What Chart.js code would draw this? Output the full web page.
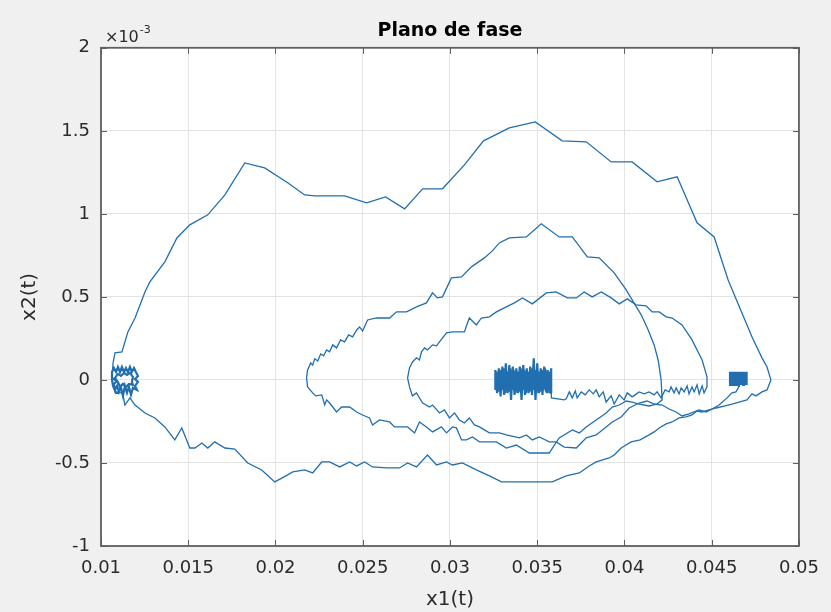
<!DOCTYPE html>
<html lang="es">
<head>
<meta charset="UTF-8">
<title>Plano de fase</title>
<script src="https://cdn.jsdelivr.net/npm/chart.js"></script>
<style>
  html, body { margin: 0; padding: 0; background: #f0f0f0; }
</style>
</head>
<body>
<canvas id="fase" width="831" height="612"></canvas>

<script>
  // ticks of the two axes
  const xTicks = [0.01, 0.015, 0.02, 0.025, 0.03, 0.035, 0.04, 0.045, 0.05];
  const xTickLabels = ['0.01', '0.015', '0.02', '0.025', '0.03', '0.035', '0.04', '0.045', '0.05'];
  const yTicks = [-1, -0.5, 0, 0.5, 1, 1.5, 2];
  const yTickLabels = ['-1', '-0.5', '0', '0.5', '1', '1.5', '2'];

  // trajectory pieces: [x1(t), x2(t) in units of 1e-3]
  const outerLoop = [
    [0.01063,0.012],[0.01069,0.102],[0.01080,0.163],[0.01120,0.169],[0.01154,0.289],[0.01195,0.373],
    [0.01252,0.530],[0.01280,0.590],[0.01366,0.711],[0.01435,0.855],[0.01509,0.934],[0.01612,0.994],
    [0.01710,1.114],[0.01824,1.307],[0.01938,1.277],[0.02070,1.187],[0.02167,1.114],[0.02225,1.108],
    [0.02396,1.108],[0.02522,1.066],[0.02631,1.102],[0.02740,1.030],[0.02843,1.151],[0.02957,1.151],
    [0.03083,1.295],[0.03192,1.440],[0.03340,1.518],[0.03489,1.554],[0.03643,1.440],[0.03781,1.434],
    [0.03924,1.313],[0.04044,1.313],[0.04187,1.193],[0.04302,1.223],[0.04416,0.946],[0.04514,0.861],
    [0.04594,0.602],[0.04731,0.259],[0.04788,0.133],[0.04817,0.078],[0.04839,0],[0.04817,-0.060],
    [0.04788,-0.072],[0.04754,-0.096],[0.04731,-0.084],[0.04702,-0.120],[0.04656,-0.133],[0.04616,-0.145],
    [0.04571,-0.157],[0.04525,-0.169],[0.04485,-0.181],[0.04445,-0.193],[0.04416,-0.187],[0.04387,-0.211],
    [0.04353,-0.223],[0.04313,-0.229],[0.04273,-0.253],[0.04239,-0.265],[0.04199,-0.289],[0.04170,-0.313],
    [0.04141,-0.331],[0.04090,-0.361],[0.04038,-0.373],[0.03981,-0.410],[0.03941,-0.452],[0.03912,-0.470],
    [0.03838,-0.494],[0.03798,-0.518],[0.03741,-0.560],[0.03666,-0.578],[0.03586,-0.614],[0.03295,-0.614],
    [0.03226,-0.578],[0.03151,-0.542],[0.03071,-0.500],[0.03014,-0.512],[0.02980,-0.494],[0.02923,-0.512],
    [0.02871,-0.452],[0.02808,-0.524],[0.02757,-0.500],[0.02711,-0.530],[0.02637,-0.530],[0.02556,-0.524],
    [0.02511,-0.494],[0.02465,-0.518],[0.02425,-0.494],[0.02368,-0.524],[0.02310,-0.494],[0.02265,-0.494],
    [0.02213,-0.560],[0.02167,-0.542],[0.02099,-0.554],[0.02070,-0.572],[0.01996,-0.614],[0.01921,-0.542],
    [0.01841,-0.500],[0.01767,-0.416],[0.01710,-0.410],[0.01652,-0.373],[0.01612,-0.410],[0.01578,-0.380],
    [0.01538,-0.410],[0.01509,-0.410],[0.01463,-0.289],[0.01423,-0.361],[0.01366,-0.283],[0.01309,-0.229],
    [0.01252,-0.199],[0.01195,-0.151],[0.01166,-0.108],[0.01137,-0.151],[0.01126,-0.090],[0.01109,-0.072]
  ];

  // settling around the left point
  const leftRest = [
    [0.01109,-0.072],[0.01086,-0.078],[0.01069,-0.036],[0.01063,0],[0.01063,0.048],[0.01074,0.072],
    [0.01086,0.048],[0.01097,0.078],[0.01109,0.048],[0.01120,0.078],[0.01132,0.048],[0.01143,0.072],
    [0.01154,0.048],[0.01166,0.078],[0.01177,0.048],[0.01189,0.072],[0.01200,0.048],[0.01212,0.024],
    [0.01195,0.006],[0.01212,-0.012],[0.01195,-0.036],[0.01206,-0.060],[0.01183,-0.048],[0.01172,-0.090],
    [0.01160,-0.042],[0.01149,-0.078],[0.01137,-0.036],[0.01126,-0.096],[0.01114,-0.042],[0.01103,-0.072],
    [0.01092,-0.036],[0.01080,-0.060],[0.01074,-0.024],[0.01092,-0.006],[0.01080,0.012],[0.01097,0.036],
    [0.01114,0.024],[0.01132,0.042],[0.01149,0.030],[0.01166,0.042],[0.01183,0.018],[0.01177,-0.012],
    [0.01183,-0.030],[0.01160,-0.024],[0.01143,-0.042],[0.01126,-0.024],[0.01109,-0.042],[0.01097,-0.012],
    [0.01063,0.012]
  ];

  const middleLoop = [
    [0.02178,0.012],[0.02184,0.060],[0.02202,0.102],[0.02213,0.090],[0.02225,0.127],[0.02242,0.114],
    [0.02259,0.157],[0.02276,0.145],[0.02293,0.181],[0.02310,0.169],[0.02328,0.211],[0.02350,0.193],
    [0.02373,0.241],[0.02396,0.229],[0.02419,0.271],[0.02442,0.259],[0.02465,0.301],[0.02482,0.319],
    [0.02499,0.295],[0.02528,0.361],[0.02579,0.373],[0.02654,0.373],[0.02694,0.410],[0.02751,0.410],
    [0.02808,0.440],[0.02865,0.464],[0.02900,0.524],[0.02928,0.494],[0.02957,0.500],[0.03008,0.614],
    [0.03066,0.620],[0.03123,0.681],[0.03197,0.735],[0.03243,0.777],[0.03283,0.825],[0.03340,0.855],
    [0.03438,0.861],[0.03523,0.940],[0.03626,0.861],[0.03701,0.861],[0.03787,0.741],[0.03855,0.735],
    [0.03941,0.645],[0.04010,0.542],[0.04044,0.482],[0.04096,0.392],[0.04136,0.301],[0.04170,0.211],
    [0.04193,0.120],[0.04210,0],[0.04216,-0.120],[0.04187,-0.145],[0.04141,-0.157],[0.04084,-0.145],
    [0.04044,-0.133],[0.04010,-0.127],[0.03970,-0.151],[0.03930,-0.163],[0.03895,-0.199],[0.03838,-0.241],
    [0.03781,-0.283],[0.03741,-0.319],[0.03701,-0.301],[0.03626,-0.349],[0.03598,-0.392],[0.03569,-0.440],
    [0.03455,-0.440],[0.03380,-0.392],[0.03323,-0.410],[0.03266,-0.373],[0.03169,-0.373],[0.03129,-0.343],
    [0.03094,-0.361],[0.03066,-0.361],[0.03037,-0.289],[0.03014,-0.283],[0.02980,-0.319],[0.02951,-0.283],
    [0.02900,-0.313],[0.02865,-0.283],[0.02825,-0.253],[0.02797,-0.319],[0.02757,-0.283],[0.02682,-0.283],
    [0.02654,-0.253],[0.02596,-0.241],[0.02556,-0.271],[0.02539,-0.229],[0.02499,-0.211],[0.02465,-0.193],
    [0.02425,-0.163],[0.02379,-0.163],[0.02350,-0.193],[0.02328,-0.163],[0.02310,-0.139],[0.02293,-0.120],
    [0.02282,-0.151],[0.02265,-0.090],[0.02230,-0.096],[0.02213,-0.078],[0.02184,-0.042],[0.02178,0.012]
  ];

  // right resting point
  const rightRest = [
    [0.04605,0.042],[0.04610,-0.030],[0.04615,0.042],[0.04620,-0.030],[0.04625,0.042],[0.04630,-0.030],
    [0.04635,0.042],[0.04640,-0.030],[0.04645,0.042],[0.04650,-0.030],[0.04655,0.042],[0.04660,-0.030],
    [0.04665,0.042],[0.04670,-0.030],[0.04675,0.042],[0.04680,-0.030],[0.04685,0.042],[0.04690,-0.030],
    [0.04695,0.042],[0.04700,-0.030],[0.04700,0.042],[0.04605,0.042],[0.04605,-0.030],[0.04656,-0.030],
    [0.04656,-0.042]
  ];

  const innerLoop = [
    // lower branch, moving left
    [0.04656,-0.042],
    [0.04639,-0.072],[0.04616,-0.078],[0.04588,-0.108],[0.04542,-0.151],[0.04502,-0.175],[0.04468,-0.193],
    [0.04428,-0.181],[0.04370,-0.205],[0.04330,-0.217],[0.04296,-0.193],[0.04256,-0.175],[0.04216,-0.151],
    [0.04170,-0.145],[0.04130,-0.127],[0.04084,-0.139],[0.04027,-0.169],[0.03981,-0.223],[0.03930,-0.253],
    [0.03895,-0.283],[0.03838,-0.331],[0.03781,-0.349],[0.03724,-0.410],[0.03655,-0.404],[0.03609,-0.373],
    [0.03569,-0.373],[0.03512,-0.343],[0.03472,-0.361],[0.03438,-0.331],[0.03398,-0.349],[0.03323,-0.331],
    [0.03283,-0.319],[0.03226,-0.319],[0.03197,-0.301],[0.03169,-0.283],[0.03140,-0.271],[0.03111,-0.229],
    [0.03083,-0.259],[0.03054,-0.241],[0.03026,-0.199],[0.02997,-0.229],[0.02968,-0.181],[0.02940,-0.199],
    [0.02900,-0.151],[0.02883,-0.163],[0.02843,-0.139],[0.02808,-0.078],[0.02785,-0.096],[0.02768,-0.042],
    [0.02757,0.012],
    // upper branch, moving right
    [0.02768,0.072],[0.02785,0.108],[0.02808,0.133],[0.02825,0.120],[0.02837,0.169],[0.02854,0.193],
    [0.02871,0.181],[0.02900,0.211],[0.02923,0.205],[0.02940,0.229],[0.02980,0.283],[0.03014,0.289],
    [0.03083,0.289],[0.03094,0.325],[0.03111,0.373],[0.03151,0.331],[0.03180,0.373],[0.03226,0.380],
    [0.03266,0.410],[0.03323,0.440],[0.03369,0.464],[0.03415,0.494],[0.03472,0.458],[0.03552,0.524],
    [0.03609,0.530],[0.03672,0.494],[0.03724,0.494],[0.03769,0.530],[0.03815,0.500],[0.03867,0.530],
    [0.03924,0.494],[0.03970,0.458],[0.04016,0.488],[0.04067,0.452],[0.04124,0.446],[0.04158,0.410],
    [0.04199,0.410],[0.04239,0.380],[0.04273,0.373],[0.04330,0.331],[0.04387,0.241],[0.04445,0.120],
    [0.04473,0.018],[0.04473,-0.042],
    // chattering back to the centre point
    [0.04456,-0.078],[0.04445,-0.036],[0.04428,-0.084],[0.04416,-0.030],[0.04399,-0.072],[0.04387,-0.042],
    [0.04370,-0.084],[0.04359,-0.036],[0.04342,-0.072],[0.04325,-0.048],[0.04313,-0.084],[0.04296,-0.048],
    [0.04284,-0.078],[0.04267,-0.042],[0.04256,-0.072],[0.04233,-0.060],[0.04210,-0.108],[0.04187,-0.072],
    [0.04170,-0.090],[0.04141,-0.072],[0.04113,-0.084],[0.04084,-0.072],[0.04061,-0.090],[0.04044,-0.102],
    [0.04016,-0.078],[0.03998,-0.120],[0.03970,-0.090],[0.03941,-0.145],[0.03924,-0.096],[0.03895,-0.133],
    [0.03878,-0.072],[0.03855,-0.102],[0.03838,-0.060],[0.03821,-0.084],[0.03798,-0.060],[0.03775,-0.090],
    [0.03752,-0.072],[0.03729,-0.108],[0.03718,-0.066],[0.03701,-0.108],[0.03684,-0.072],[0.03666,-0.114],
    [0.03655,-0.120],[0.03581,-0.108],[0.03581,-0.078]
  ];

  // centre resting point
  const centreRest = [
    [0.03581,-0.078],
    [0.0358,0.07],[0.0357,-0.08],[0.0356,0.06],[0.0355,-0.07],[0.0354,0.08],[0.0353,-0.09],[0.0352,0.07],
    [0.0351,-0.08],[0.0350,0.10],[0.0349,-0.12],[0.0348,0.13],[0.0347,-0.09],[0.0346,0.08],[0.0345,-0.08],
    [0.0344,0.07],[0.0343,-0.09],[0.0342,0.09],[0.0341,-0.12],[0.0340,0.08],[0.0339,-0.08],[0.0338,0.07],
    [0.0337,-0.09],[0.0336,0.08],[0.0335,-0.12],[0.0334,0.09],[0.0333,-0.08],[0.0332,0.10],[0.0331,-0.09],
    [0.0330,0.08],[0.0329,-0.10],[0.0328,0.07],[0.0327,-0.08],[0.0326,0.06],[0.0326,-0.06],
    [0.03265,0.05],[0.03275,-0.07],[0.03285,0.06],[0.03295,-0.06],[0.03305,0.07],[0.03315,-0.08],
    [0.03325,0.05],[0.03335,-0.07],[0.03345,0.07],[0.03355,-0.06],[0.03365,0.06],[0.03375,-0.08],
    [0.03385,0.05],[0.03395,-0.07],[0.03405,0.07],[0.03415,-0.06],[0.03425,0.06],[0.03435,-0.08],
    [0.03445,0.05],[0.03455,-0.07],[0.03465,0.07],[0.03475,-0.06],[0.03485,0.06],[0.03495,-0.08],
    [0.03505,0.05],[0.03515,-0.07],[0.03525,0.06],[0.03535,-0.06],[0.03545,0.07],[0.03555,-0.08],
    [0.03565,0.05],[0.03575,-0.06]
  ];

  const LINE = '#226fb0';
  const AXIS = '#5f5f5f';
  const TEXT = '#2b2b2b';

  function toPoints(path) {
    return path.map(p => ({ x: p[0], y: p[1] }));
  }

  function trace(path, width) {
    return {
      data: toPoints(path),
      showLine: true,
      borderColor: LINE,
      borderWidth: width,
      pointRadius: 0,
      fill: false,
      tension: 0
    };
  }

  // white axes box, inward ticks, box outline and the x10^-3 multiplier
  const matlabAxes = {
    id: 'matlabAxes',
    beforeDraw(chart) {
      const { ctx, chartArea: a } = chart;
      ctx.save();
      ctx.fillStyle = '#f0f0f0';
      ctx.fillRect(0, 0, chart.width, chart.height);
      ctx.fillStyle = '#ffffff';
      ctx.fillRect(a.left, a.top, a.right - a.left, a.bottom - a.top);
      ctx.restore();
    },
    afterDraw(chart) {
      const { ctx, chartArea: a, scales } = chart;
      ctx.save();
      ctx.strokeStyle = AXIS;
      ctx.lineWidth = 1;
      ctx.beginPath();
      xTicks.forEach(v => {
        const px = Math.round(scales.x.getPixelForValue(v)) + 0.5;
        ctx.moveTo(px, a.bottom); ctx.lineTo(px, a.bottom - 6);
        ctx.moveTo(px, a.top); ctx.lineTo(px, a.top + 6);
      });
      yTicks.forEach(v => {
        const py = Math.round(scales.y.getPixelForValue(v)) + 0.5;
        ctx.moveTo(a.left, py); ctx.lineTo(a.left + 6, py);
        ctx.moveTo(a.right, py); ctx.lineTo(a.right - 6, py);
      });
      ctx.stroke();
      ctx.lineWidth = 1.8;
      ctx.strokeRect(a.left, a.top, a.right - a.left, a.bottom - a.top);

      ctx.fillStyle = TEXT;
      ctx.textBaseline = 'alphabetic';
      ctx.font = '16px "DejaVu Sans"';
      ctx.fillText('\u00d710', a.left + 4, a.top - 6);
      const w = ctx.measureText('\u00d710').width;
      ctx.font = '11px "DejaVu Sans"';
      ctx.fillText('-3', a.left + 5 + w, a.top - 15);
      ctx.restore();
    }
  };

  const tickFont = { family: 'DejaVu Sans', size: 18 };

  new Chart(document.getElementById('fase'), {
    type: 'scatter',
    data: {
      datasets: [
        trace(outerLoop, 1.3),
        trace(middleLoop, 1.3),
        trace(innerLoop, 1.3),
        trace(leftRest, 2.2),
        trace(centreRest, 2.2),
        trace(rightRest, 2.2)
      ]
    },
    options: {
      responsive: false,
      animation: false,
      events: [],
      layout: { padding: { top: 0, right: 31, bottom: 0, left: 0 } },
      plugins: {
        legend: { display: false },
        tooltip: { enabled: false },
        title: {
          display: true,
          text: 'Plano de fase',
          fullSize: false,
          color: '#000',
          font: { family: 'DejaVu Sans', size: 19, weight: 'bold' },
          padding: { top: 20, bottom: 5 }
        }
      },
      scales: {
        x: {
          type: 'linear',
          min: 0.01,
          max: 0.05,
          afterBuildTicks: s => { s.ticks = xTicks.map(v => ({ value: v })); },
          afterFit: s => { s.height = 66; },
          ticks: {
            callback: v => xTickLabels[xTicks.indexOf(v)],
            font: tickFont,
            color: TEXT,
            padding: 12,
            maxRotation: 0,
            autoSkip: false
          },
          grid: { color: '#e3e3e3', drawTicks: false },
          border: { display: false },
          title: {
            display: true,
            text: 'x1(t)',
            color: TEXT,
            font: { family: 'DejaVu Sans', size: 20 },
            padding: { top: 0, bottom: 0 }
          }
        },
        y: {
          type: 'linear',
          min: -1,
          max: 2,
          afterBuildTicks: s => { s.ticks = yTicks.map(v => ({ value: v })); },
          afterFit: s => { s.width = 101; },
          ticks: {
            callback: v => yTickLabels[yTicks.indexOf(v)],
            font: tickFont,
            color: TEXT,
            padding: 11,
            autoSkip: false
          },
          grid: { color: '#e3e3e3', drawTicks: false },
          border: { display: false },
          title: {
            display: true,
            text: 'x2(t)',
            color: TEXT,
            font: { family: 'DejaVu Sans', size: 20 },
            padding: { top: 18, bottom: 0 }
          }
        }
      }
    },
    plugins: [matlabAxes]
  });
</script>
</body>
</html>
